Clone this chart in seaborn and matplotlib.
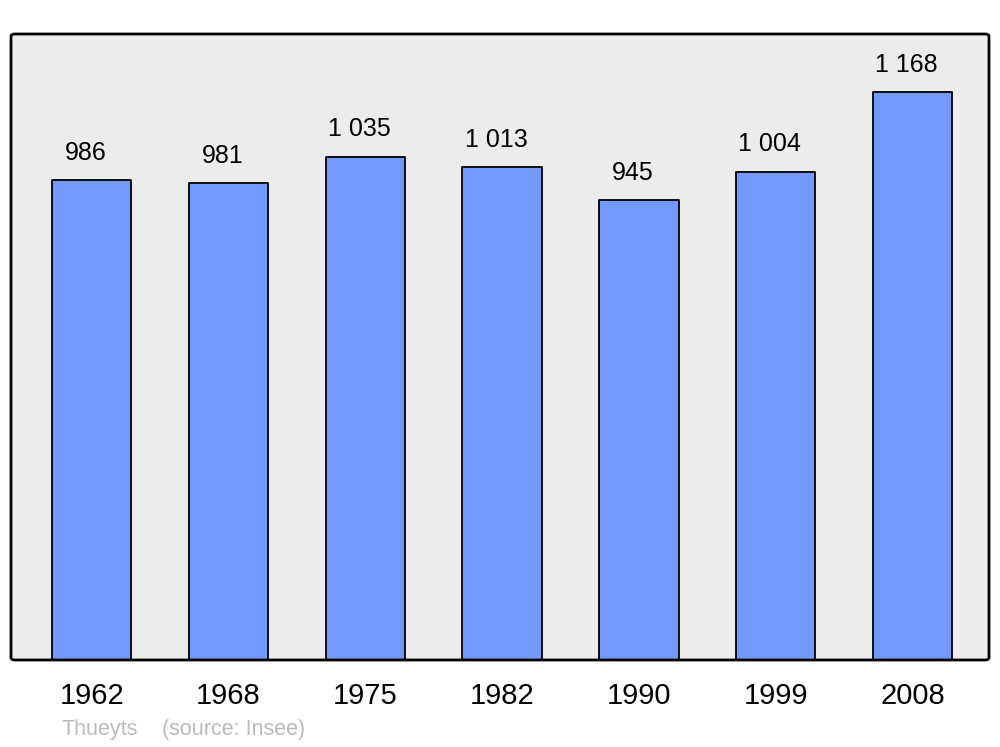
import matplotlib
matplotlib.use('Agg')
import matplotlib.pyplot as plt
import seaborn as sns
import pandas as pd
from matplotlib.patches import FancyBboxPatch

# Population data
years = ['1962', '1968', '1975', '1982', '1990', '1999', '2008']
population = [986, 981, 1035, 1013, 945, 1004, 1168]
value_labels = ['986', '981', '1 035', '1 013', '945', '1 004', '1 168']

df = pd.DataFrame({'year': years, 'population': population})

sns.set_style('white')
plt.rcParams['font.family'] = ['Liberation Sans', 'DejaVu Sans']
plt.rcParams['text.color'] = 'black'
plt.rcParams['xtick.color'] = 'black'

fig = plt.figure(figsize=(10, 7.47), dpi=100)
ax = fig.add_axes([0.011, 1 - 660 / 747, 0.978, (660 - 34) / 747])
ax.set_facecolor('#ececec')

sns.barplot(data=df, x='year', y='population', color='#7399ff', saturation=1,
            width=0.58, edgecolor='black', linewidth=1.3, ax=ax)

for bar in ax.patches:
    bar.set_joinstyle('round')

# value labels, slightly left of bar centre like the original
for bar, lab in zip(ax.patches, value_labels):
    ax.annotate(lab, (bar.get_x() + bar.get_width() / 2, bar.get_height()),
                xytext=(-4.3, 11), textcoords='offset points',
                ha='center', va='bottom', fontsize=18, color='black')

ax.set_xlim(-0.59, 6.56)
ax.set_ylim(0, 1287)
ax.set_xlabel('')
ax.set_ylabel('')
ax.set_yticks([])
ax.tick_params(axis='x', length=0, pad=16, labelsize=21, labelcolor='black')

for s in ax.spines.values():
    s.set_visible(False)

# rounded frame around the plot area
frame = FancyBboxPatch((0, 0), 1, 1, boxstyle='round,pad=0,rounding_size=0.004',
                       transform=ax.transAxes, facecolor='none', edgecolor='black',
                       linewidth=2, clip_on=False, zorder=5)
ax.add_patch(frame)

fig.text(0.061, 1 - 730 / 747, 'Thueyts', color='#bbbbbb', fontsize=15.5, va='center')
fig.text(0.162, 1 - 730 / 747, '(source: Insee)', color='#bbbbbb', fontsize=15.5, va='center')

plt.savefig('out.png', dpi=100)
